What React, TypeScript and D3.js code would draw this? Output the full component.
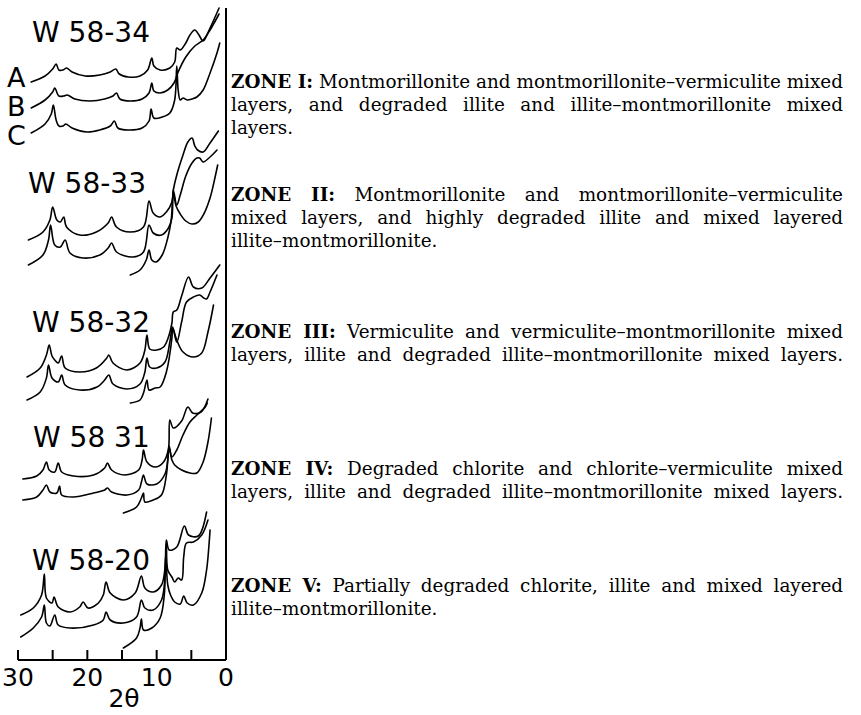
import React, { useLayoutEffect, useRef } from "react";
import * as d3 from "d3";

type Pt = [number, number]; // [2θ (degrees), relative intensity (stacked, arbitrary units)]

// ---------- axis data ----------
const TWO_THETA_TICKS = [30, 25, 20, 15, 10, 5, 0];
const TICK_LABELS = [30, 20, 10, 0];
const AXIS_TITLE = "2θ";

// ---------- samples ----------
const SAMPLE_NAMES = ["W 58-34", "W 58-33", "W 58-32", "W 58 31", "W 58-20"];
const CURVE_NAMES = ["A", "B", "C"];

// W 58-34
const W34_A: Pt[] = [[28.1,578],[26.1,584],[25.0,591],[24.5,596],[24.1,590],[23.5,590],[23.0,592],[22.2,588],[20.3,584],[18.2,585],[16.7,588],[15.9,591],[15.4,586],[14.1,583],[12.4,584],[11.3,590],[10.7,602],[10.4,594],[9.5,590],[8.1,592],[7.4,598],[7.1,612],[6.6,610],[5.8,617],[5.2,625],[4.5,630],[3.9,625],[3.3,619],[2.3,632],[1.0,652]];
const W34_B: Pt[] = [[28.1,552],[26.1,560],[25.0,568],[24.7,572],[24.1,564],[23.4,564],[22.9,565],[21.8,561],[19.6,559],[17.5,561],[16.3,564],[15.8,567],[15.3,561],[13.8,559],[12.1,561],[11.1,567],[10.7,577],[10.4,569],[9.5,567],[8.4,570],[7.5,577],[6.9,588],[5.8,603],[4.5,614],[3.3,620],[2.3,630],[1.0,646]];
const W34_C: Pt[] = [[28.1,527],[26.1,536],[25.2,546],[24.9,555],[24.5,540],[24.1,534],[23.5,534],[23.1,536],[22.2,532],[20.0,528],[18.2,530],[16.7,534],[16.1,539],[15.6,532],[14.1,530],[12.1,532],[11.1,539],[10.8,551],[10.4,542],[9.2,543],[8.1,547],[7.4,560],[7.1,594],[6.9,570],[6.6,560],[6.2,562],[5.6,560],[4.9,561],[4.2,563],[3.3,570],[2.3,587],[1.3,607],[0.9,617]];

// W 58-33
const W33_A: Pt[] = [[28.5,420],[26.4,428],[25.4,440],[25.0,453],[24.4,440],[23.9,438],[23.4,443],[23.0,433],[21.1,425],[18.7,428],[17.0,437],[16.5,443],[15.8,433],[13.8,428],[11.9,433],[11.1,459],[10.5,447],[9.5,443],[8.6,448],[7.8,458],[7.6,470],[7.1,485],[6.2,505],[5.5,518],[4.9,522],[4.5,514],[4.1,510],[3.3,508],[2.3,517],[1.1,529]];
const W33_B: Pt[] = [[28.5,395],[26.4,405],[25.6,420],[25.3,435],[24.7,415],[23.9,413],[23.2,420],[22.5,407],[20.6,402],[18.2,405],[17.0,412],[16.5,417],[15.8,408],[13.4,403],[11.9,408],[11.1,435],[10.5,427],[9.3,425],[8.3,432],[7.8,442],[7.6,470],[7.1,455],[6.6,465],[5.8,484],[4.9,497],[4.2,502],[3.8,502],[3.3,498],[2.3,503],[1.3,510]];
const W33_C: Pt[] = [[13.8,385],[12.4,390],[11.5,400],[11.1,410],[10.7,400],[10.1,398],[9.2,405],[8.4,422],[7.9,440],[7.6,467],[7.2,454],[6.6,446],[5.8,439],[4.9,436],[4.0,438],[3.2,446],[2.3,462],[1.6,482],[1.2,495]];

// W 58-32
const W32_A: Pt[] = [[28.7,283],[26.8,292],[25.9,305],[25.5,315],[25.1,304],[24.7,300],[24.2,297],[23.7,304],[23.2,292],[21.1,288],[18.7,292],[17.2,302],[16.9,305],[16.3,297],[14.3,290],[12.4,297],[11.7,310],[11.4,325],[11.0,311],[10.0,310],[9.0,313],[8.3,323],[7.8,337],[7.6,348],[7.1,350],[6.4,364],[5.4,383],[4.7,373],[3.5,372],[2.3,382],[0.9,395]];
const W32_B: Pt[] = [[28.7,260],[26.8,268],[25.9,282],[25.6,295],[25.1,282],[24.2,278],[23.7,285],[23.2,275],[21.1,270],[18.6,273],[17.5,280],[16.9,285],[16.3,276],[14.3,271],[12.4,276],[11.7,288],[11.4,302],[11.0,293],[10.0,292],[8.8,298],[8.1,318],[7.7,333],[7.1,318],[6.4,338],[5.7,358],[4.7,363],[3.8,365],[3.2,362],[2.8,361],[2.3,368],[1.3,385]];
const W32_C: Pt[] = [[13.8,257],[12.4,260],[11.9,267],[11.4,280],[11.1,270],[10.2,272],[9.5,273],[8.6,288],[7.8,322],[7.7,332],[7.1,320],[6.2,308],[4.7,303],[3.5,307],[2.6,328],[1.8,355]];

// W 58 31
const W31_A: Pt[] = [[29.3,181],[27.3,184],[26.4,190],[25.9,198],[25.5,190],[24.7,188],[24.2,197],[23.7,188],[22.0,184],[19.1,185],[17.5,192],[17.1,197],[16.5,190],[14.6,185],[12.6,190],[12.1,200],[11.9,210],[11.4,198],[10.2,193],[9.0,198],[8.3,211],[8.1,240],[7.6,232],[6.4,239],[5.5,253],[4.8,247],[3.6,248],[2.6,261]];
const W31_B: Pt[] = [[29.3,160],[27.3,163],[26.4,170],[25.9,175],[25.4,168],[24.4,167],[24.0,174],[23.7,165],[22.0,163],[19.1,167],[17.5,170],[17.1,172],[16.5,168],[14.3,165],[12.6,170],[12.2,178],[11.9,185],[11.4,176],[10.0,176],[8.8,186],[8.4,200],[8.2,214],[7.8,203],[7.1,210],[6.2,225],[5.2,238],[4.2,245],[3.0,253],[2.7,257]];
const W31_C: Pt[] = [[14.8,147],[12.9,153],[12.2,162],[11.9,167],[11.7,158],[10.5,160],[9.3,165],[8.6,185],[8.2,212],[7.8,200],[7.4,195],[6.4,190],[5.2,187],[4.2,187],[3.3,198],[2.6,218],[2.1,242]];

// W 58-20
const W20_A: Pt[] = [[29.6,45],[27.8,52],[26.6,65],[26.2,86],[25.9,62],[25.1,57],[24.8,63],[24.2,53],[22.5,48],[21.1,53],[20.6,58],[19.9,52],[18.4,57],[17.7,65],[17.3,78],[16.7,67],[14.8,60],[13.1,67],[12.2,84],[11.7,72],[10.5,68],[9.3,75],[8.8,92],[8.6,120],[8.2,110],[7.1,113],[6.0,134],[5.4,125],[4.0,124],[2.8,148]];
const W20_B: Pt[] = [[29.6,23],[27.8,32],[26.6,43],[26.2,55],[25.9,37],[25.4,34],[24.7,45],[24.2,35],[22.5,32],[19.1,35],[17.7,40],[17.3,48],[16.7,40],[14.8,37],[12.9,43],[12.2,60],[11.7,52],[10.5,50],[9.3,60],[8.8,83],[8.6,115],[8.4,90],[7.8,83],[7.4,78],[6.9,82],[6.4,80],[6.1,103],[5.7,117],[4.7,118],[3.5,125],[2.6,140]];
const W20_C: Pt[] = [[14.8,12],[12.9,22],[12.4,32],[12.2,41],[11.9,30],[10.7,32],[9.5,42],[8.9,65],[8.7,105],[8.4,75],[8.0,65],[7.4,58],[6.6,56],[6.1,64],[5.6,57],[4.7,55],[3.5,67],[2.8,90],[2.4,120],[2.3,130]];

const SAMPLE_CURVES: Pt[][][] = [
  [W34_A, W34_B, W34_C],
  [W33_A, W33_B, W33_C],
  [W32_A, W32_B, W32_C],
  [W31_A, W31_B, W31_C],
  [W20_A, W20_B, W20_C],
];

// ---------- zone descriptions ----------
const ZONE_HEADS = ["ZONE I:", "ZONE II:", "ZONE III:", "ZONE IV:", "ZONE V:"];
const ZONE_LINES: string[][] = [
  [" Montmorillonite and montmorillonite–vermiculite mixed", "layers, and degraded illite and illite–montmorillonite mixed", "layers."],
  [" Montmorillonite and montmorillonite–vermiculite", "mixed layers, and highly degraded illite and mixed layered", "illite–montmorillonite."],
  [" Vermiculite and vermiculite–montmorillonite mixed", "layers, illite and degraded illite–montmorillonite mixed layers."],
  [" Degraded chlorite and chlorite–vermiculite mixed", "layers, illite and degraded illite–montmorillonite mixed layers."],
  [" Partially degraded chlorite, illite and mixed layered", "illite–montmorillonite."],
];
const ZONE_JUSTIFY: boolean[][] = [
  [true, true, false],
  [true, true, false],
  [true, true],
  [true, true],
  [true, false],
];

// ---------- layout (not data) ----------
const WIDTH = 861;
const HEIGHT = 715;
const PLOT_LEFT = 18;
const PLOT_RIGHT = 226;
const AXIS_Y = 660;
const TOP_Y = 8;
const TEXT_X = 231;
const TEXT_W = 612;
const LINE_H = 23;
const ZONE_TOP_BASELINE = [88, 201, 338, 475, 592];
const SAMPLE_LABEL_POS: [number, number][] = [[32, 42], [28, 193], [32, 332], [33, 447], [32, 570]];
const ABC_LABEL_POS: [number, number][] = [[7, 87], [7, 116], [7, 145]];

export default function App() {
  const zoneRef = useRef<SVGGElement>(null);

  const x = d3.scaleLinear().domain([30, 0]).range([PLOT_LEFT, PLOT_RIGHT]);
  const y = d3.scaleLinear().domain([0, AXIS_Y - TOP_Y]).range([AXIS_Y, TOP_Y]);
  const line = d3
    .line<Pt>()
    .x((d) => x(d[0]))
    .y((d) => y(d[1]))
    .curve(d3.curveCatmullRom.alpha(0.5));

  useLayoutEffect(() => {
    document.body.style.margin = "0";
    const g = zoneRef.current;
    if (!g) return;
    const texts = Array.from(g.querySelectorAll("text")) as SVGTextElement[];
    const base = 17;
    texts.forEach((t) => t.setAttribute("font-size", String(base)));
    const w0 = texts[0].getComputedTextLength();
    const fs = Math.max(14, Math.min(19, (base * TEXT_W) / w0));
    texts.forEach((t) => t.setAttribute("font-size", fs.toFixed(2)));
    texts.forEach((t) => {
      if (t.getAttribute("data-justify") === "1") {
        t.style.wordSpacing = "0px";
        const w = t.getComputedTextLength();
        const gaps = (t.textContent || "").trim().split(/\s+/).length - 1;
        if (gaps > 0) t.style.wordSpacing = ((TEXT_W - w) / gaps).toFixed(2) + "px";
      }
    });
  }, []);

  return (
    <svg width={WIDTH} height={HEIGHT} viewBox={`0 0 ${WIDTH} ${HEIGHT}`} style={{ display: "block", background: "#fff" }}>
      <rect width={WIDTH} height={HEIGHT} fill="#fff" />
      {/* curves */}
      <g fill="none" stroke="#000" strokeWidth={1.6} strokeLinejoin="round" strokeLinecap="round">
        {SAMPLE_CURVES.map((curves, si) =>
          curves.map((c, ci) => <path key={`${si}-${ci}`} d={line(c) || ""} />)
        )}
      </g>
      {/* axes */}
      <g stroke="#000" strokeWidth={2} fill="none">
        <line x1={x(30)} x2={x(0)} y1={AXIS_Y} y2={AXIS_Y} />
        <line x1={x(0)} x2={x(0)} y1={TOP_Y} y2={AXIS_Y} />
        {TWO_THETA_TICKS.map((t) => (
          <line key={t} x1={x(t)} x2={x(t)} y1={AXIS_Y} y2={AXIS_Y - 10} />
        ))}
      </g>
      <g fontFamily="'DejaVu Sans', sans-serif" fill="#000">
        {TICK_LABELS.map((t) => (
          <text key={t} x={x(t)} y={686} fontSize={25} textAnchor="middle">
            {t}
          </text>
        ))}
        <text x={(x(30) + x(0)) / 2 + 2} y={707} fontSize={25} textAnchor="middle">
          {AXIS_TITLE}
        </text>
        {SAMPLE_NAMES.map((n, i) => (
          <text key={n} x={SAMPLE_LABEL_POS[i][0]} y={SAMPLE_LABEL_POS[i][1]} fontSize={28}>
            {n}
          </text>
        ))}
        {CURVE_NAMES.map((n, i) => (
          <text key={n} x={ABC_LABEL_POS[i][0]} y={ABC_LABEL_POS[i][1]} fontSize={27}>
            {n}
          </text>
        ))}
      </g>
      {/* zone descriptions */}
      <g ref={zoneRef} fontFamily="'DejaVu Serif', serif" fill="#000">
        {ZONE_LINES.map((lines, zi) =>
          lines.map((ln, li) => (
            <text
              key={`${zi}-${li}`}
              x={TEXT_X}
              y={ZONE_TOP_BASELINE[zi] + li * LINE_H}
              data-justify={ZONE_JUSTIFY[zi][li] ? "1" : "0"}
              fontSize={17}
            >
              {li === 0 ? <tspan fontWeight="bold">{ZONE_HEADS[zi]}</tspan> : null}
              {li === 0 ? <tspan>{ln}</tspan> : ln}
            </text>
          ))
        )}
      </g>
    </svg>
  );
}
